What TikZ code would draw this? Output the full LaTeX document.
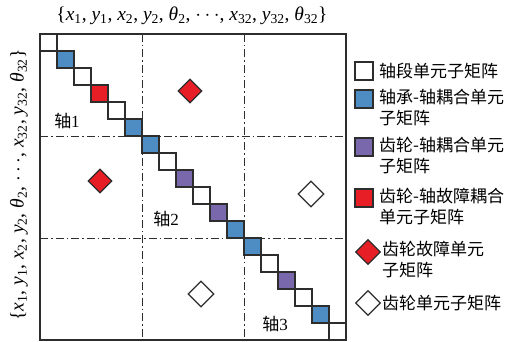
\documentclass[tikz,border=0pt]{standalone}
\usepackage{fontspec}
\setmainfont{Liberation Serif}
\newfontfamily\cjk{Noto Sans CJK SC}
\usetikzlibrary{shapes.geometric}
\newcommand\myv[2]{\textit{#1}\textsubscript{#2}}
\newcommand\mylabel{\{\myv{x}{1}, \myv{y}{1}, \myv{x}{2}, \myv{y}{2}, \myv{θ}{2}, $\cdots$, \myv{x}{32}, \myv{y}{32}, \myv{θ}{32}\}}
\definecolor{colw}{RGB}{255,255,255}
\definecolor{colb}{RGB}{78,140,196}
\definecolor{colp}{RGB}{122,104,172}
\definecolor{colr}{RGB}{232,30,38}
\definecolor{edge}{RGB}{45,45,45}
\begin{document}
\begin{tikzpicture}[x=1pt,y=-1pt,
  cell/.style={draw=edge, line width=1.1pt, minimum size=17pt, inner sep=0pt, outer sep=0pt},
  dia/.style={draw=edge, line width=1.1pt, diamond, inner sep=0pt, minimum width=#1, minimum height=#1},
  dia/.default=25pt,
  dd/.style={draw=edge, line width=0.9pt, dash pattern=on 8pt off 3pt on 1.5pt off 3pt},
  lab/.style={font=\fontsize{17}{21}\selectfont, inner sep=0pt},
  leg/.style={lab, anchor=west, align=left},
  axl/.style={font=\fontsize{19.5}{22}\selectfont, inner sep=0pt}]
\useasboundingbox (0,0) rectangle (520,342);
% block separators
\draw[dd] (142,34) -- (142,340);
\draw[dd] (244,34) -- (244,340);
\draw[dd] (40,136) -- (346,136);
\draw[dd] (40,238) -- (346,238);
% diagonal cells
\foreach \c [count=\i] in {w,b,w,r,w,b,b,w,p,w,p,b,b,w,p,w,b,w}
  \node[cell, fill=col\c] (s\i) at ({40+17*(\i-0.5)},{34+17*(\i-0.5)}) {};
% frame
\draw[draw=edge, line width=1.2pt] (40,34) rectangle (346,340);
% diamonds in matrix
\node[dia=24pt, fill=colr] (d1) at (190,91) {};
\node[dia=24pt, fill=colr] (d2) at (100,181) {};
\node[dia=26pt, fill=white] (d3) at (311,194) {};
\node[dia=26pt, fill=white] (d4) at (201,294) {};
% shaft labels
\node[lab] (a1) at (67,121) {{\cjk 轴}1};
\node[lab] (a2) at (166,219) {{\cjk 轴}2};
\node[lab] (a3) at (275,324) {{\cjk 轴}3};
% axis labels
\node[axl] (top) at (192,16) {\mylabel};
\node[axl, rotate=90] (left) at (19,185) {\mylabel};
% legend
\node[cell, fill=colw, minimum size=18pt] (k1) at (364,71) {};
\node[leg] (t1) at (379,71) {\cjk 轴段单元子矩阵};
\node[cell, fill=colb, minimum size=18pt] (k2) at (364,99) {};
\node[leg, anchor=north west] (t2) at (379,89) {\cjk 轴承-轴耦合单元\\\cjk 子矩阵};
\node[cell, fill=colp, minimum size=18pt] (k3) at (364,147) {};
\node[leg, anchor=north west] (t3) at (379,137) {\cjk 齿轮-轴耦合单元\\\cjk 子矩阵};
\node[cell, fill=colr, minimum size=18pt] (k4) at (364,198) {};
\node[leg, anchor=north west] (t4) at (379,188) {\cjk 齿轮-轴故障耦合\\\cjk 单元子矩阵};
\node[dia=25pt, fill=colr] (k5) at (368,252) {};
\node[leg, anchor=north west] (t5) at (382,241) {\cjk 齿轮故障单元\\\cjk 子矩阵};
\node[dia=25pt, fill=white] (k6) at (368,303) {};
\node[leg] (t6) at (382,303) {\cjk 齿轮单元子矩阵};
\end{tikzpicture}
\end{document}
